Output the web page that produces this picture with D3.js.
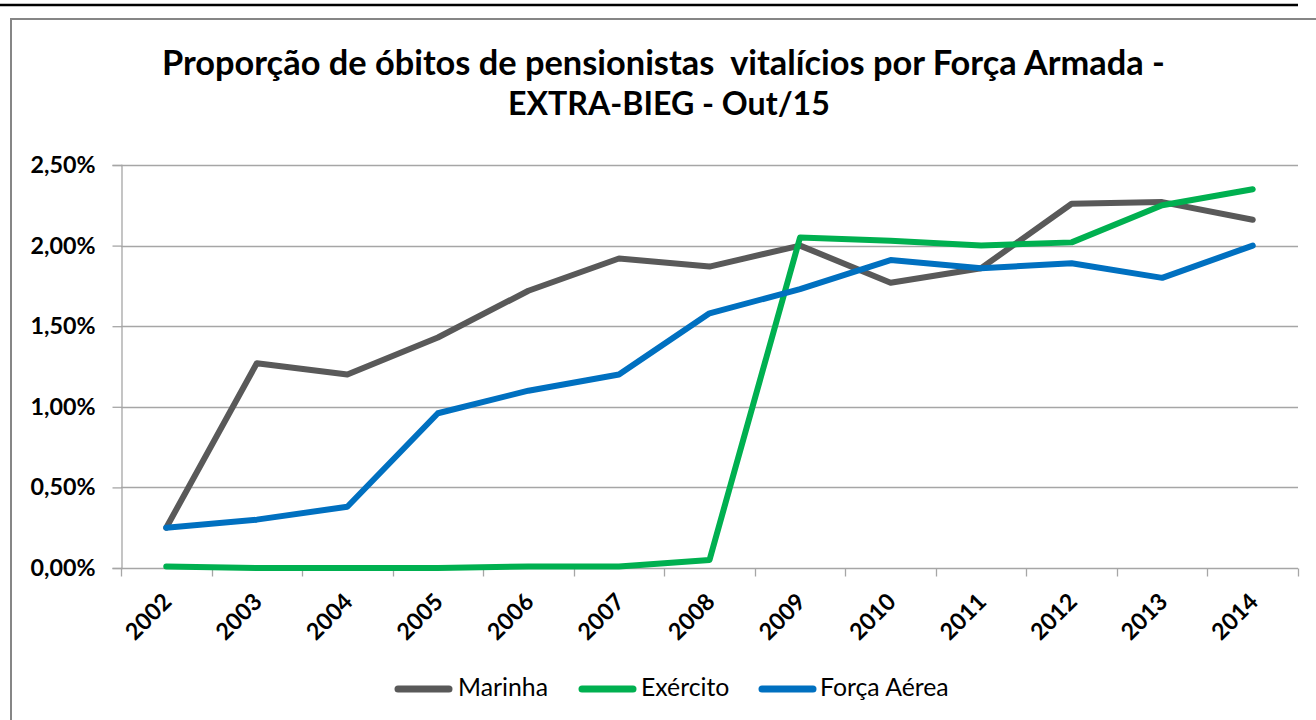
<!DOCTYPE html>
<html>
<head>
<meta charset="utf-8">
<script src="https://cdn.jsdelivr.net/npm/d3@7"></script>
<style>
  html, body { margin: 0; padding: 0; background: #fff; }
  svg { display: block; }
  text { font-family: Lato, "Open Sans", "DejaVu Sans", sans-serif; fill: #000; }
</style>
</head>
<body>
<svg id="chart" width="1316" height="720"></svg>
<script>
// Years on the category axis
const years = ["2002","2003","2004","2005","2006","2007","2008","2009","2010","2011","2012","2013","2014"];

// Death proportion of lifetime pensioners (%), one array per armed force
const marinha    = [0.25, 1.27, 1.20, 1.43, 1.72, 1.92, 1.87, 2.00, 1.77, 1.86, 2.26, 2.27, 2.16];
const exercito   = [0.01, 0.00, 0.00, 0.00, 0.01, 0.01, 0.05, 2.05, 2.03, 2.00, 2.02, 2.25, 2.35];
const forcaAerea = [0.25, 0.30, 0.38, 0.96, 1.10, 1.20, 1.58, 1.73, 1.91, 1.86, 1.89, 1.80, 2.00];

const seriesNames  = ["Marinha", "Exército", "Força Aérea"];
const seriesColors = ["#595959", "#00B050", "#0070C0"];
const yTicks = [0, 0.5, 1.0, 1.5, 2.0, 2.5];

const titleLines = ["Proporção de óbitos de pensionistas  vitalícios por Força Armada -", "EXTRA-BIEG - Out/15"];

const series = [marinha, exercito, forcaAerea].map((values, i) => ({
  name: seriesNames[i], color: seriesColors[i], values
}));

const svg = d3.select("#chart");

// scale a text's font size so that it spans the given width
function fitWidth(sel, width, base) {
  sel.attr("font-size", base);
  const w = sel.node().getComputedTextLength();
  const size = base * width / w;
  sel.attr("font-size", size);
  return size;
}

// page rule above the chart frame
svg.append("line")
  .attr("x1", 0).attr("x2", 1298).attr("y1", 5).attr("y2", 5)
  .attr("stroke", "#000").attr("stroke-width", 2.5);

// chart frame
svg.append("rect")
  .attr("x", 11).attr("y", 19).attr("width", 1330).attr("height", 720)
  .attr("fill", "#fff").attr("stroke", "#868686").attr("stroke-width", 2);

const plot = { left: 121, right: 1298, top: 165, bottom: 568 };

const x = d3.scaleBand().domain(years).range([plot.left, plot.right]).paddingInner(0).paddingOuter(0);
const y = d3.scaleLinear().domain([0, 2.5]).range([plot.bottom, plot.top]);

const fmtPct = v => v.toFixed(2).replace(".", ",") + "%";

// size of the axis labels, fitted from the widest tick label
const probe = svg.append("text").attr("font-weight", 700).text(fmtPct(2.5));
const axisFont = fitWidth(probe, 65, 20);
probe.remove();

// horizontal gridlines
svg.append("g")
  .selectAll("line")
  .data(yTicks.filter(t => t > 0))
  .join("line")
  .attr("x1", plot.left).attr("x2", plot.right)
  .attr("y1", d => Math.round(y(d)) + 0.5).attr("y2", d => Math.round(y(d)) + 0.5)
  .attr("stroke", "#a6a6a6").attr("stroke-width", 1.3);

// y axis
const yAxis = svg.append("g")
  .attr("transform", `translate(${plot.left + 0.5},0)`)
  .call(d3.axisLeft(y).tickValues(yTicks).tickFormat(fmtPct).tickSize(9).tickPadding(17));
yAxis.select(".domain").attr("stroke", "#a6a6a6").attr("stroke-width", 1.3);
yAxis.selectAll(".tick line").attr("stroke", "#a6a6a6").attr("stroke-width", 1.3);
yAxis.selectAll(".tick text")
  .attr("font-size", axisFont).attr("font-weight", 700)
  .style("font-family", "Lato, sans-serif").attr("fill", "#000");

// x axis: ticks at category boundaries
const xAxisG = svg.append("g").attr("transform", `translate(0,${plot.bottom + 0.5})`);
xAxisG.append("line")
  .attr("x1", plot.left).attr("x2", plot.right)
  .attr("stroke", "#a6a6a6").attr("stroke-width", 1.3);
const boundaries = years.map(d => x(d)).concat([x(years[years.length - 1]) + x.bandwidth()]);
xAxisG.selectAll("line.tick")
  .data(boundaries)
  .join("line")
  .attr("class", "tick")
  .attr("x1", d => Math.round(d) + 0.5).attr("x2", d => Math.round(d) + 0.5)
  .attr("y1", 0).attr("y2", 8)
  .attr("stroke", "#a6a6a6").attr("stroke-width", 1.3);
xAxisG.selectAll("text")
  .data(years)
  .join("text")
  .attr("transform", d => `translate(${x(d) + x.bandwidth() / 2 + 1},${29}) rotate(-45)`)
  .attr("text-anchor", "end")
  .attr("dy", "0.35em")
  .attr("font-size", axisFont).attr("font-weight", 700)
  .text(d => d);

// series lines
const line = d3.line()
  .x((d, i) => x(years[i]) + x.bandwidth() / 2)
  .y(d => y(d));

svg.append("g")
  .selectAll("path")
  .data(series)
  .join("path")
  .attr("d", d => line(d.values))
  .attr("fill", "none")
  .attr("stroke", d => d.color)
  .attr("stroke-width", 6)
  .attr("stroke-linejoin", "round")
  .attr("stroke-linecap", "round");

// title
const title = svg.append("g");
const titleSpecs = [
  { text: titleLines[0], x0: 162, baseline: 75, width: 1003 },
  { text: titleLines[1], x0: 508, baseline: 115, width: 322 }
];
titleSpecs.forEach(s => {
  const t = title.append("text")
    .attr("x", s.x0).attr("y", s.baseline)
    .attr("text-anchor", "start")
    .attr("font-weight", 700)
    .style("white-space", "pre")
    .text(s.text);
  fitWidth(t, s.width, 30);
});

// legend
const legendItems = [
  { lx: 395, tx: 458 },
  { lx: 579, tx: 641 },
  { lx: 759, tx: 820 }
];
const legend = svg.append("g");
const legendProbe = legend.append("text").text(seriesNames[0]);
const legendFont = fitWidth(legendProbe, 90, 20);
legendProbe.remove();
series.forEach((s, i) => {
  const it = legendItems[i];
  legend.append("line")
    .attr("x1", it.lx + 3).attr("x2", it.lx + 54)
    .attr("y1", 689).attr("y2", 689)
    .attr("stroke", s.color).attr("stroke-width", 7)
    .attr("stroke-linecap", "round");
  legend.append("text")
    .attr("x", it.tx).attr("y", 696)
    .attr("font-size", legendFont)
    .text(s.name);
});
</script>
</body>
</html>
